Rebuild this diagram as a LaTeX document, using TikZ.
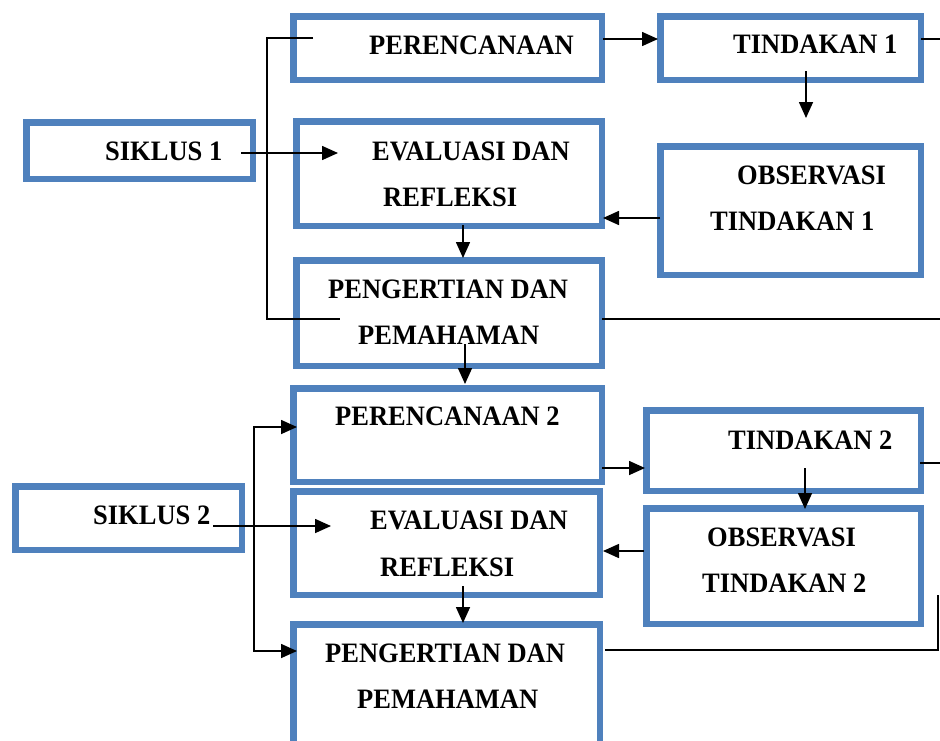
\documentclass[tikz,border=0pt]{standalone}
\usepackage{fontspec}
\setmainfont{Liberation Serif}
\usetikzlibrary{arrows.meta}
\definecolor{boxblue}{RGB}{79,129,189}
\begin{document}
\begin{tikzpicture}[x=1pt,y=-1pt,
  bx/.style={draw=boxblue,line width=6.5pt,rectangle,inner sep=0pt,fill=white},
  lbl/.style={anchor=base west,inner sep=0pt,yscale=1.06,transform shape,font=\fontsize{26.5}{30}\selectfont\bfseries},
  ln/.style={line width=1.6pt,black},
  arr/.style={ln,-{Triangle[length=16pt,width=14pt]}},
  darr/.style={ln,{Triangle[length=16pt,width=14pt]}-{Triangle[length=16pt,width=14pt]}}]
\clip (0,0) rectangle (940,740);
\fill[white] (0,0) rectangle (940,740);
% boxes
\node[bx,minimum width=308.5pt,minimum height=63.5pt] (per1) at (447.5,48) {};
\node[bx,minimum width=260.5pt,minimum height=63.5pt] (tin1) at (790.5,48) {};
\node[bx,minimum width=226.5pt,minimum height=56.5pt] (sik1) at (139.5,150.5) {};
\node[bx,minimum width=305.5pt,minimum height=104.5pt] (eva1) at (449,173.5) {};
\node[bx,minimum width=260.5pt,minimum height=128.5pt] (obs1) at (790.5,210.5) {};
\node[bx,minimum width=305.5pt,minimum height=105.5pt] (pen1) at (449,313) {};
\node[bx,minimum width=308.5pt,minimum height=93.5pt] (per2) at (447.5,435) {};
\node[bx,minimum width=274.5pt,minimum height=80.5pt] (tin2) at (783.5,450.5) {};
\node[bx,minimum width=226.5pt,minimum height=63.5pt] (sik2) at (128.5,518) {};
\node[bx,minimum width=306.5pt,minimum height=103.5pt] (eva2) at (446.5,543) {};
\node[bx,minimum width=274.5pt,minimum height=115.5pt] (obs2) at (783.5,566) {};
\node[bx,minimum width=306.5pt,minimum height=132.5pt] (pen2) at (446.5,690.5) {};
% labels
\node[lbl] (tper1) at (369,54) {PERENCANAAN};
\node[lbl] (ttin1) at (733,53) {TINDAKAN 1};
\node[lbl] (tsik1) at (105,160) {SIKLUS 1};
\node[lbl] (teva1a) at (372,160) {EVALUASI DAN};
\node[lbl] (teva1b) at (383,206) {REFLEKSI};
\node[lbl] (tobs1a) at (737,184) {OBSERVASI};
\node[lbl] (tobs1b) at (710,230) {TINDAKAN 1};
\node[lbl] (tpen1a) at (328,298) {PENGERTIAN DAN};
\node[lbl] (tpen1b) at (358,344) {PEMAHAMAN};
\node[lbl] (tper2) at (335,425) {PERENCANAAN 2};
\node[lbl] (ttin2) at (728,449) {TINDAKAN 2};
\node[lbl] (tsik2) at (93,524) {SIKLUS 2};
\node[lbl] (teva2a) at (370,529) {EVALUASI DAN};
\node[lbl] (teva2b) at (380,576) {REFLEKSI};
\node[lbl] (tobs2a) at (707,546) {OBSERVASI};
\node[lbl] (tobs2b) at (702,592) {TINDAKAN 2};
\node[lbl] (tpen2a) at (325,662) {PENGERTIAN DAN};
\node[lbl] (tpen2b) at (357,708) {PEMAHAMAN};
% connector end points
\coordinate (b1s) at (313,38);
\coordinate (b1a) at (267,38);
\coordinate (b1b) at (267,319);
\coordinate (b1e) at (340,319);
\coordinate (s1o) at (241,153);
\coordinate (s1i) at (338,153);
\coordinate (p1o) at (603,39);
\coordinate (t1i) at (658,39);
\coordinate (t1s) at (921,39);
\coordinate (e1) at (940,39);
\coordinate (t1d) at (806,71);
\coordinate (o1u) at (806,118);
\coordinate (o1l) at (660,218);
\coordinate (e1r) at (603,218);
\coordinate (e1d) at (463,225);
\coordinate (pn1u) at (463,258);
\coordinate (pn1r) at (602,319);
\coordinate (e2) at (940,319);
\coordinate (pn1d) at (465,344);
\coordinate (p2u) at (465,384);
\coordinate (p2l) at (297,427);
\coordinate (b2a) at (254,427);
\coordinate (b2b) at (254,651);
\coordinate (pn2l) at (297,651);
\coordinate (s2o) at (213,526);
\coordinate (e2l) at (331,526);
\coordinate (p2r) at (602,468);
\coordinate (t2l) at (645,468);
\coordinate (t2s) at (920,463);
\coordinate (e3) at (940,463);
\coordinate (t2d) at (805,468);
\coordinate (o2u) at (805,509);
\coordinate (o2l) at (644,551);
\coordinate (e2r) at (603,551);
\coordinate (e2d) at (463,586);
\coordinate (pn2u) at (463,623);
\coordinate (pn2r) at (605,650);
\coordinate (e4) at (938,650);
\coordinate (e5) at (938,595);
% connectors
\draw[ln] (b1s) -- (b1a) -- (b1b) -- (b1e);
\draw[arr] (s1o) -- (s1i);
\draw[arr] (p1o) -- (t1i);
\draw[ln] (t1s) -- (e1);
\draw[arr] (t1d) -- (o1u);
\draw[arr] (o1l) -- (e1r);
\draw[arr] (e1d) -- (pn1u);
\draw[ln] (pn1r) -- (e2);
\draw[arr] (pn1d) -- (p2u);
\draw[darr] (p2l) -- (b2a) -- (b2b) -- (pn2l);
\draw[arr] (s2o) -- (e2l);
\draw[arr] (p2r) -- (t2l);
\draw[ln] (t2s) -- (e3);
\draw[arr] (t2d) -- (o2u);
\draw[arr] (o2l) -- (e2r);
\draw[arr] (e2d) -- (pn2u);
\draw[ln] (pn2r) -- (e4) -- (e5);
\end{tikzpicture}
\end{document}
